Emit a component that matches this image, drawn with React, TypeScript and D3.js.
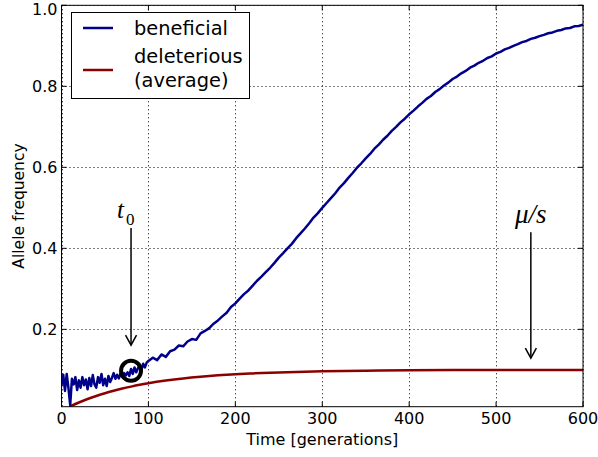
import React from "react";
import * as d3 from "d3";

// Beneficial allele, early part (generations 0..98, every 2)
const earlyT = [0,2,4,6,8,10,12,14,16,18,20,22,24,26,28,30,32,34,36,38,40,42,44,46,48,50,52,54,56,58,60,62,64,66,68,70,72,74,76,78,80,82,84,86,88,90,92,94,96,98];
const earlyV = [0.062,0.088,0.048,0.09,0.055,0.013,0.078,0.064,0.082,0.05,0.074,0.056,0.082,0.062,0.076,0.052,0.08,0.06,0.087,0.064,0.056,0.082,0.068,0.09,0.062,0.078,0.06,0.085,0.07,0.08,0.092,0.078,0.088,0.079,0.091,0.082,0.092,0.086,0.094,0.085,0.102,0.09,0.106,0.094,0.104,0.112,0.1,0.115,0.106,0.118];

// Beneficial allele, later part (generations 100..600, every 5)
const lateT = [100,105,110,115,120,125,130,135,140,145,150,155,160,165,170,175,180,185,190,195,200,205,210,215,220,225,230,235,240,245,250,255,260,265,270,275,280,285,290,295,300,305,310,315,320,325,330,335,340,345,350,355,360,365,370,375,380,385,390,395,400,405,410,415,420,425,430,435,440,445,450,455,460,465,470,475,480,485,490,495,500,505,510,515,520,525,530,535,540,545,550,555,560,565,570,575,580,585,590,595,600];
const lateV = [0.122,0.13,0.124,0.138,0.132,0.146,0.15,0.16,0.158,0.17,0.176,0.174,0.19,0.196,0.203,0.214,0.222,0.232,0.241,0.255,0.264,0.276,0.287,0.296,0.308,0.32,0.33,0.341,0.352,0.364,0.377,0.388,0.4,0.411,0.425,0.437,0.449,0.462,0.476,0.487,0.5,0.512,0.524,0.536,0.55,0.561,0.574,0.586,0.599,0.61,0.622,0.633,0.646,0.656,0.668,0.678,0.69,0.7,0.711,0.72,0.731,0.74,0.75,0.759,0.769,0.776,0.786,0.793,0.802,0.809,0.818,0.824,0.832,0.838,0.846,0.851,0.858,0.863,0.87,0.874,0.881,0.885,0.891,0.895,0.9,0.904,0.909,0.912,0.917,0.92,0.924,0.927,0.931,0.933,0.937,0.939,0.943,0.944,0.948,0.949,0.952];

// Deleterious allele (average)
const delT = [10,20,30,40,50,60,70,80,90,100,120,140,160,180,200,220,250,300,350,400,450,500,550,600];
const delV = [0.010,0.0194,0.0279,0.0355,0.0423,0.0483,0.0538,0.0586,0.063,0.0669,0.0735,0.0788,0.083,0.0864,0.0891,0.0912,0.0937,0.0964,0.0979,0.0988,0.0993,0.0996,0.0998,0.0999];

const xTicks = [0,100,200,300,400,500,600];
const yTicks = [0.2,0.4,0.6,0.8,1.0];
const yTickLabels = ["0.2","0.4","0.6","0.8","1.0"];
const legendLabels = ["beneficial", "deleterious", "(average)"];

const W = 598, H = 457;
const FONT = "DejaVu Sans";

export default function App() {
  const x = d3.scaleLinear().domain([0, 600]).range([61.5, 583]);
  const y = d3.scaleLinear().domain([0.009, 1.0]).range([406.7, 5.3]);
  const left = x(0), right = x(600), top = y(1.0), bottom = y(0.009);

  const benef: [number, number][] = [
    ...earlyT.map((t, i) => [t, earlyV[i]] as [number, number]),
    ...lateT.map((t, i) => [t, lateV[i]] as [number, number]),
  ];
  const del: [number, number][] = delT.map((t, i) => [t, delV[i]]);

  const line = d3.line<[number, number]>().x(d => x(d[0])).y(d => y(d[1]));
  const curve = d3.line<[number, number]>().x(d => x(d[0])).y(d => y(d[1])).curve(d3.curveMonotoneX);

  const arrow = (t: number, v0: number, v1: number) => {
    const ax = x(t), y0 = y(v0), y1 = y(v1);
    return (
      <g stroke="#000" strokeWidth={1.5} fill="none">
        <line x1={ax} y1={y0} x2={ax} y2={y1} />
        <path d={`M${ax - 5.5},${y1 - 10}L${ax},${y1}L${ax + 5.5},${y1 - 10}`} />
      </g>
    );
  };

  return (
    <svg width={W} height={H} style={{ position: "absolute", left: 0, top: 0, background: "#fff" }} fontFamily={FONT}>
      <rect x={0} y={0} width={W} height={H} fill="#fff" />
      <defs>
        <clipPath id="plot">
          <rect x={left} y={top} width={right - left} height={bottom - top} />
        </clipPath>
      </defs>
      {/* grid */}
      <g stroke="#000" strokeWidth={1} strokeDasharray="1,3">
        {xTicks.map(t => (
          <line key={"gx" + t} x1={Math.round(x(t)) + 0.5} x2={Math.round(x(t)) + 0.5} y1={top} y2={bottom} />
        ))}
        {yTicks.map(t => (
          <line key={"gy" + t} y1={Math.round(y(t)) + 0.5} y2={Math.round(y(t)) + 0.5} x1={left} x2={right} />
        ))}
      </g>
      {/* data */}
      <g clipPath="url(#plot)" fill="none" strokeLinejoin="round" strokeLinecap="round">
        <path d={curve(del) || ""} stroke="#8b0000" strokeWidth={2.5} />
        <path d={line(benef) || ""} stroke="#00008b" strokeWidth={2.5} />
      </g>
      {/* circle at t0 */}
      <circle cx={x(80)} cy={y(0.0975)} r={10} fill="none" stroke="#000" strokeWidth={4} />
      {/* annotations */}
      {arrow(80, 0.45, 0.161)}
      {arrow(540, 0.44, 0.129)}
      <text x={x(80) - 14} y={y(0.475)} fontFamily="Liberation Serif" fontStyle="italic" fontSize={25}>t</text>
      <text x={x(80) - 5} y={y(0.458)} fontFamily="Liberation Serif" fontSize={17}>0</text>
      <text x={x(540)} y={y(0.463)} fontFamily="Liberation Serif" fontStyle="italic" fontSize={27} textAnchor="middle">μ/s</text>
      {/* axes frame */}
      <rect x={left} y={top} width={right - left} height={bottom - top} fill="none" stroke="#000" strokeWidth={1} />
      {/* ticks */}
      <g stroke="#000" strokeWidth={1}>
        {xTicks.map(t => (
          <g key={"tx" + t}>
            <line x1={x(t)} x2={x(t)} y1={bottom} y2={bottom - 5} />
            <line x1={x(t)} x2={x(t)} y1={top} y2={top + 5} />
          </g>
        ))}
        {yTicks.map(t => (
          <g key={"ty" + t}>
            <line y1={y(t)} y2={y(t)} x1={left} x2={left + 5} />
            <line y1={y(t)} y2={y(t)} x1={right} x2={right - 5} />
          </g>
        ))}
      </g>
      <g fontSize={16} fill="#000">
        {xTicks.map(t => (
          <text key={"lx" + t} x={x(t)} y={424} textAnchor="middle">{t}</text>
        ))}
        {yTicks.map((t, i) => (
          <text key={"ly" + t} x={left - 4} y={Math.max(y(t), 9.5)} dy="0.36em" textAnchor="end">{yTickLabels[i]}</text>
        ))}
      </g>
      <text x={(left + right) / 2} y={445} fontSize={16} textAnchor="middle">Time [generations]</text>
      <text transform={`translate(24,${(top + bottom) / 2}) rotate(-90)`} fontSize={15.5} textAnchor="middle">Allele frequency</text>
      {/* legend */}
      <g>
        <rect x={71.5} y={12.5} width={178} height={86} fill="#fff" stroke="#000" strokeWidth={1} />
        <line x1={83} x2={113} y1={28} y2={28} stroke="#00008b" strokeWidth={2.5} />
        <line x1={83} x2={113} y1={70} y2={70} stroke="#8b0000" strokeWidth={2.5} />
        <g fontSize={19.4} fill="#000">
          <text x={134} y={35}>{legendLabels[0]}</text>
          <text x={134} y={63}>{legendLabels[1]}</text>
          <text x={134} y={87}>{legendLabels[2]}</text>
        </g>
      </g>
    </svg>
  );
}
